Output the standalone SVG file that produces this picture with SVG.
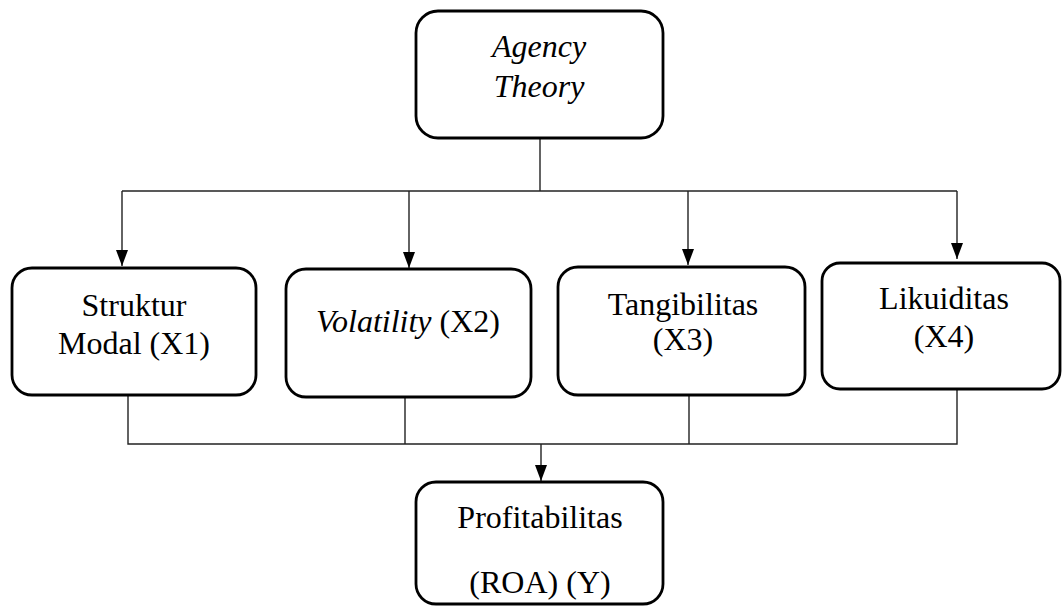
<svg xmlns="http://www.w3.org/2000/svg" width="1062" height="607" viewBox="0 0 1062 607">
<style>
.box{fill:#fff;stroke:#000;stroke-width:2.8}
text{font-family:'Liberation Serif','Times New Roman',serif;font-size:32px;fill:#000;text-anchor:middle}
.i{font-style:italic}
.ln{fill:none;stroke:#222;stroke-width:1.4}
</style>
<defs>
<marker id="ah" viewBox="0 0 16 12" refX="16" refY="6" markerWidth="16" markerHeight="12" markerUnits="userSpaceOnUse" orient="auto">
<path d="M0,0 L16,6 L0,12 z" fill="#000"/>
</marker>
</defs>
<g id="connectors">
<path class="ln" d="M540,138 V191"/>
<path class="ln" d="M122,191 H957"/>
<path class="ln" d="M122,191 V266" marker-end="url(#ah)"/>
<path class="ln" d="M409,191 V268" marker-end="url(#ah)"/>
<path class="ln" d="M688,191 V265" marker-end="url(#ah)"/>
<path class="ln" d="M957,191 V259" marker-end="url(#ah)"/>
<path class="ln" d="M128,395 V444 H957 V389"/>
<path class="ln" d="M405,397 V444"/>
<path class="ln" d="M689,395 V444"/>
<path class="ln" d="M541,444 V481" marker-end="url(#ah)"/>
</g>
<g id="agency">
<rect class="box" x="416" y="11" width="247" height="127" rx="22"/>
<text class="i" x="539" y="57">Agency</text>
<text class="i" x="539" y="97">Theory</text>
</g>
<g id="x1">
<rect class="box" x="12" y="268" width="244" height="127" rx="20"/>
<text x="134" y="316">Struktur</text>
<text x="134" y="354">Modal (X1)</text>
</g>
<g id="x2">
<rect class="box" x="286" y="269" width="245" height="128" rx="20"/>
<text x="408" y="332"><tspan class="i">Volatility</tspan> (X2)</text>
</g>
<g id="x3">
<rect class="box" x="558" y="267" width="247" height="128" rx="20"/>
<text x="683" y="315">Tangibilitas</text>
<text x="683" y="350">(X3)</text>
</g>
<g id="x4">
<rect class="box" x="822" y="263" width="238" height="126" rx="18"/>
<text x="944" y="309">Likuiditas</text>
<text x="944" y="347">(X4)</text>
</g>
<g id="y">
<rect class="box" x="416" y="482" width="247" height="122" rx="20"/>
<text x="540" y="528">Profitabilitas</text>
<text x="540" y="593">(ROA) (Y)</text>
</g>
</svg>
